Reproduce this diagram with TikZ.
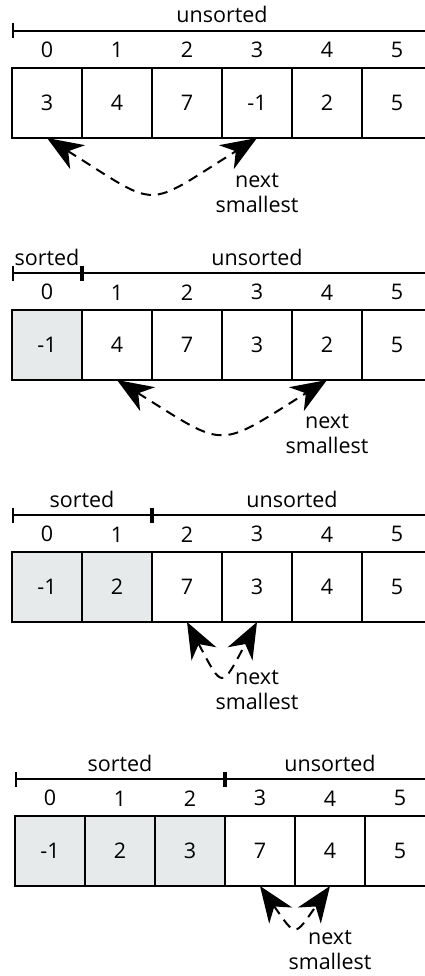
\documentclass[tikz,border=0pt]{standalone}
\usepackage{fontspec}
\setmainfont{Open Sans}
\usetikzlibrary{arrows.meta, positioning}
\definecolor{sortedgray}{HTML}{E6EAEA}

\begin{document}
\begin{tikzpicture}[
        x=1pt, y=1pt,
        font=\fontsize{21.5}{25}\selectfont,
        idx/.style={inner sep=0pt, outer sep=0pt, yshift=10pt},
        cell/.style={rectangle, draw=black, line width=2pt, minimum width=70pt, minimum height=70pt, inner sep=0pt, outer sep=0pt, label={[idx]above:#1}},
        sortedcell/.style={cell=#1, fill=sortedgray},
        bracket/.style={{Bar[width=15pt]}-{Bar[width=15pt]}, line width=2pt},
        swaparrow/.style={{Stealth[length=36pt, width=28pt, inset=11pt]}-{Stealth[length=36pt, width=28pt, inset=11pt]}, line width=2pt, dash pattern=on 10pt off 7pt},
        note/.style={align=center, anchor=base, inner sep=0pt}
    ]
    \useasboundingbox (0,0) rectangle (425,-976);

    % Pass 1: nothing sorted
    \node (p1c0) [cell=0] at (47,-103) {3};
    \node (p1c1) [cell=1, right=0pt of p1c0] {4};
    \node (p1c2) [cell=2, right=0pt of p1c1] {7};
    \node (p1c3) [cell=3, right=0pt of p1c2] {-1};
    \node (p1c4) [cell=4, right=0pt of p1c3] {2};
    \node (p1c5) [cell=5, right=0pt of p1c4] {5};

    % Pass 2: one sorted
    \node (p2c0) [sortedcell=0] at (47,-345) {-1};
    \node (p2c1) [cell=1, right=0pt of p2c0] {4};
    \node (p2c2) [cell=2, right=0pt of p2c1] {7};
    \node (p2c3) [cell=3, right=0pt of p2c2] {3};
    \node (p2c4) [cell=4, right=0pt of p2c3] {2};
    \node (p2c5) [cell=5, right=0pt of p2c4] {5};

    % Pass 3: two sorted
    \node (p3c0) [sortedcell=0] at (47,-587) {-1};
    \node (p3c1) [sortedcell=1, right=0pt of p3c0] {2};
    \node (p3c2) [cell=2, right=0pt of p3c1] {7};
    \node (p3c3) [cell=3, right=0pt of p3c2] {3};
    \node (p3c4) [cell=4, right=0pt of p3c3] {4};
    \node (p3c5) [cell=5, right=0pt of p3c4] {5};

    % Pass 4: three sorted
    \node (p4c0) [sortedcell=0] at (50,-851) {-1};
    \node (p4c1) [sortedcell=1, right=0pt of p4c0] {2};
    \node (p4c2) [sortedcell=2, right=0pt of p4c1] {3};
    \node (p4c3) [cell=3, right=0pt of p4c2] {7};
    \node (p4c4) [cell=4, right=0pt of p4c3] {4};
    \node (p4c5) [cell=5, right=0pt of p4c4] {5};

    % Brackets
    \draw [bracket] ([yshift=37pt]p1c0.north west) -- ([yshift=37pt]p1c5.north east) node[midway, anchor=base, yshift=8pt] {unsorted};
    \draw [bracket] ([yshift=37pt]p2c0.north west) -- ([yshift=37pt]p2c0.north east) node[midway, anchor=base, yshift=8pt] {sorted};
    \draw [bracket] ([yshift=37pt]p2c1.north west) -- ([yshift=37pt]p2c5.north east) node[midway, anchor=base, yshift=8pt] {unsorted};
    \draw [bracket] ([yshift=37pt]p3c0.north west) -- ([yshift=37pt]p3c1.north east) node[midway, anchor=base, yshift=8pt] {sorted};
    \draw [bracket] ([yshift=37pt]p3c2.north west) -- ([yshift=37pt]p3c5.north east) node[midway, anchor=base, yshift=8pt] {unsorted};
    \draw [bracket] ([yshift=37pt]p4c0.north west) -- ([yshift=37pt]p4c2.north east) node[midway, anchor=base, yshift=8pt] {sorted};
    \draw [bracket] ([yshift=37pt]p4c3.north west) -- ([yshift=37pt]p4c5.north east) node[midway, anchor=base, yshift=8pt] {unsorted};

    % Swaps
    \draw [swaparrow] (p1c0.south) to[out=-32, in=-148, looseness=1.65] (p1c3.south);
    \draw [swaparrow] (p2c1.south) to[out=-32, in=-148, looseness=1.6] (p2c4.south);
    \draw [swaparrow] (p3c2.south) to[out=-62, in=-118, looseness=2.8] (p3c3.south);
    \draw [swaparrow] (p4c3.south) to[out=-55, in=-125, looseness=2.3] (p4c4.south);

    % Labels
    \node (p1note) [note] at ([yshift=-75pt]p1c3.south) {next\\smallest};
    \node (p2note) [note] at ([yshift=-73pt]p2c4.south) {next\\smallest};
    \node (p3note) [note] at ([yshift=-87pt]p3c3.south) {next\\smallest};
    \node (p4note) [note] at ([yshift=-83pt]p4c4.south) {next\\smallest};
\end{tikzpicture}
\end{document}
